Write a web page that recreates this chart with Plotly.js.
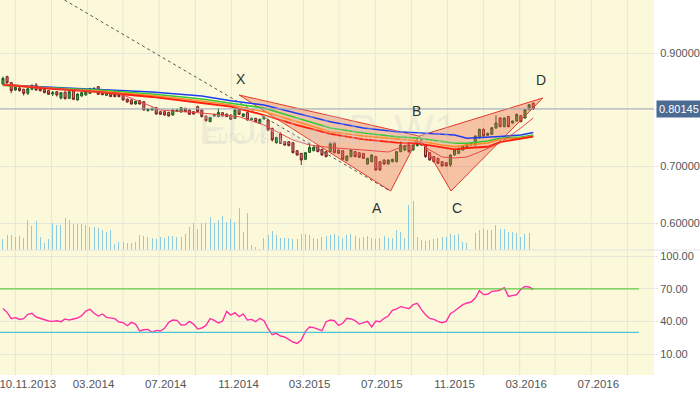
<!DOCTYPE html>
<html><head><meta charset="utf-8">
<script src="https://cdn.plot.ly/plotly-3.0.1.min.js"></script>
<style>html,body{margin:0;padding:0;background:#fff;}#chart{width:700px;height:394px;}</style>
</head><body><div id="chart"></div>
<script>
// ---------- DATA ----------
const FIRST_WEEK = '2013-09-29';
const openP = [.8453,.8583,.8477,.8347,.8382,.8359,.8288,.8359,.8435,.8382,.8359,.8335,.8277,.8318,.8206,.8312,.8200,.8335,.8171,.8241,.8259,.8288,.8347,.8406,.8288,.8253,.8288,.8271,.8265,.8253,.8188,.8171,.8100,.8159,.8141,.7982,.7994,.8035,.7965,.7965,.7953,.7906,.7970,.7959,.8024,.7994,.7965,.8053,.7994,.7888,.7788,.7888,.7877,.7947,.7923,.7906,.7847,.8006,.7882,.7947,.7818,.7847,.7759,.7835,.7818,.7671,.7418,.7571,.7435,.7435,.7418,.7276,.7229,.7124,.7247,.7276,.7359,.7300,.7259,.7259,.7418,.7288,.7276,.7100,.7171,.7259,.7241,.7229,.7041,.7082,.7171,.7082,.7112,.7041,.7082,.7082,.7259,.7288,.7376,.7288,.7365,.7470,.7376,.7241,.7171,.7141,.7082,.7065,.7024,.7200,.7229,.7288,.7347,.7376,.7376,.7500,.7653,.7547,.7565,.7676,.7853,.7700,.7880,.7765,.7800,.7894,.7853,.8000,.8112];
const highP = [.8583,.8600,.8490,.8410,.8400,.8370,.8385,.8445,.8470,.8390,.8370,.8345,.8330,.8325,.8310,.8320,.8330,.8350,.8290,.8310,.8330,.8385,.8400,.8415,.8300,.8315,.8295,.8280,.8300,.8260,.8195,.8180,.8155,.8165,.8150,.8020,.8035,.8045,.7975,.7970,.7960,.8005,.8000,.8045,.8030,.8000,.7970,.8070,.8000,.7895,.7870,.7925,.8023,.7955,.7930,.7915,.8005,.8015,.7935,.7960,.7860,.7855,.7840,.7890,.7830,.7680,.7520,.7600,.7445,.7445,.7425,.7285,.7235,.7250,.7406,.7345,.7370,.7310,.7265,.7435,.7425,.7295,.7285,.7190,.7300,.7270,.7250,.7235,.7150,.7210,.7180,.7090,.7120,.7120,.7135,.7270,.7440,.7380,.7390,.7400,.7500,.7500,.7385,.7250,.7180,.7150,.7090,.7075,.7210,.7300,.7330,.7370,.7405,.7420,.7545,.7665,.7665,.7595,.7690,.7900,.7865,.7865,.7890,.7810,.7930,.7900,.8010,.8100,.8130];
const lowP = [.8430,.8460,.8290,.8330,.8320,.8250,.8260,.8345,.8335,.8320,.8290,.8260,.8240,.8230,.8180,.8180,.8190,.8170,.8160,.8230,.8250,.8280,.8340,.8260,.8255,.8245,.8225,.8220,.8220,.8165,.8125,.8090,.8090,.8090,.7985,.7970,.7985,.7915,.7910,.7895,.7880,.7895,.7965,.7950,.7960,.7910,.7915,.7955,.7865,.7790,.7780,.7880,.7870,.7880,.7870,.7820,.7840,.7910,.7870,.7810,.7810,.7780,.7750,.7825,.7630,.7440,.7400,.7395,.7365,.7355,.7230,.7190,.7024,.7110,.7240,.7265,.7250,.7190,.7160,.7250,.7230,.7220,.7115,.7090,.7160,.7160,.7150,.7130,.7030,.7070,.6925,.6925,.7030,.7030,.7070,.7070,.7250,.7270,.7240,.7280,.7350,.7360,.7150,.7100,.7070,.7040,.6995,.6995,.6990,.7190,.7220,.7280,.7340,.7370,.7370,.7490,.7525,.7540,.7555,.7665,.7690,.7690,.7690,.7755,.7790,.7780,.7845,.7990,.7995];
const closeP = [.8553,.8477,.8335,.8394,.8335,.8288,.8370,.8429,.8347,.8335,.8300,.8271,.8300,.8259,.8300,.8194,.8318,.8182,.8277,.8300,.8318,.8371,.8371,.8271,.8265,.8306,.8230,.8230,.8230,.8171,.8135,.8100,.8147,.8100,.7994,.8012,.8024,.7923,.7918,.7906,.7888,.7994,.7994,.8035,.7965,.7918,.7923,.7965,.7877,.7806,.7865,.7918,.7953,.7888,.7877,.7830,.7994,.7918,.7924,.7818,.7847,.7788,.7830,.7865,.7641,.7465,.7512,.7406,.7376,.7365,.7241,.7200,.7112,.7241,.7335,.7335,.7259,.7200,.7171,.7406,.7241,.7229,.7124,.7182,.7288,.7171,.7159,.7141,.7141,.7200,.6935,.6935,.7041,.7112,.7124,.7259,.7376,.7365,.7259,.7376,.7400,.7376,.7171,.7112,.7082,.7053,.7006,.7006,.7200,.7288,.7318,.7359,.7394,.7406,.7535,.7653,.7535,.7582,.7682,.7765,.7700,.7853,.7700,.7800,.7918,.7788,.8000,.8088,.80145];
const volumeK = [11,15,15,13,14,12,30,24,29,13,7,11,27,25,25,32,30,26,26,26,25,23,23,22,20,18,20,6,8,8,7,7,8,15,14,13,12,11,13,12,14,14,13,13,16,23,27,21,27,27,33,27,30,34,28,31,28,42,18,37,5,3,1,12,15,19,15,12,12,12,11,11,16,16,15,12,11,13,14,
  15,16,14,12,15,16,14,12,13,14,12,11,12,14,12,12,20,18,12,45,49,13,10,9,10,11,12,13,13,16,15,16,8,7,0,17,20,21,20,20,25,21,21,18,18,17,13,16,17,1];
const rsi14 = [52,48.4,42.6,43.5,41.9,42.6,46.6,47.5,44.1,42.9,41.3,40.4,40.1,40.7,39.8,42.3,41.3,42.6,43.2,45.3,49.6,51.2,47.5,45.0,46.9,43.8,43.2,42.6,39.5,38.9,36.1,39.2,37.6,31.2,32.4,32.7,30.0,31.8,31.2,33.7,39.2,41.3,41.0,36.7,37.0,40.1,37.6,33.0,34.0,36.4,42.6,41.0,38.6,40.4,49.3,45.9,48.1,44.4,46.9,41.3,41.9,39.8,42.9,40.7,33.4,27.8,29.1,26.6,25.7,23.5,21.1,19.8,22.9,30.9,34.9,34.3,32.7,31.5,39.8,41.3,40.7,36.4,38.3,42.9,42.3,40.7,37.6,38.9,40.1,34.9,40.4,39.8,42.9,45.0,50.2,51.5,53.6,52.7,51.8,55.5,56.7,50.9,46.2,42.9,41.9,40.1,38.9,40.1,47.2,49.6,53.0,55.5,57.0,57.9,61.6,68.4,64.7,65.0,67.7,68.0,69.0,71.0,63.1,63.7,64.7,69.6,72.3,71.7,69.3];

// moving averages read at sample weeks (candle indices)
const maWeeks = [0,11,23,36,48,55,63,71,79,87,95,100,106,109,112,117,120,125,128];
const maBlue   = [0.8435,0.8400,0.8365,0.8312,0.8241,0.8158,0.8082,0.7941,0.7788,0.7677,0.7611,0.7594,0.7575,0.7553,0.7495,0.7509,0.7527,0.7553,0.7597];
const maGreen  = [0.8426,0.8382,0.8347,0.8277,0.8188,0.8112,0.8029,0.7853,0.7677,0.7588,0.7523,0.7500,0.7440,0.7407,0.7407,0.7447,0.7495,0.7518,0.7553];
const maOrange = [0.8435,0.8374,0.8329,0.8250,0.8153,0.8082,0.7964,0.7788,0.7611,0.7535,0.7477,0.7452,0.7377,0.7346,0.7377,0.7412,0.7477,0.7500,0.7535];
const maRed    = [0.8444,0.8374,0.8312,0.8224,0.8118,0.8052,0.7906,0.7729,0.7571,0.7477,0.7417,0.7407,0.7333,0.7301,0.7324,0.7346,0.7429,0.7482,0.7523];
const fastWeeks = [0,11,23,28,33,38,48,57,63,70,74,79,87,93,97,100,103,106,109,112,115,120,125,128];
const maFast    = [0.8453,0.8382,0.8312,0.8289,0.8141,0.7994,0.7941,0.7876,0.7729,0.7465,0.7377,0.7332,0.7288,0.7253,0.7359,0.7447,0.7288,0.7165,0.7147,0.7165,0.7253,0.7412,0.7677,0.7853];

// harmonic pattern
const patternNames  = ['X','A','B','C','D'];
const patternDates  = ['2014-11-02','2015-07-16','2015-09-02','2015-10-26','2016-03-29'];
const patternPrices = [0.8259,0.6565,0.7535,0.6565,0.8206];
const labelDates    = ['2014-11-05','2015-06-23','2015-08-28','2015-11-05','2016-03-26'];
const labelPrices   = [0.8541,0.6265,0.7977,0.6265,0.8524];
const trendDates  = ['2014-01-11','2015-07-15'];
const trendPrices = [0.9935,0.6565];
const lastPrice = 0.80145;

const xTickDates = ['2013-11-10','2014-03-01','2014-07-01','2014-11-01','2015-03-01','2015-07-01','2015-11-01','2016-03-01','2016-07-01'];
const xTickText  = ['10.11.2013','03.2014','07.2014','11.2014','03.2015','07.2015','11.2015','03.2016','07.2016'];
const priceTicks = [0.6,0.7,0.8,0.9];
const priceTickText = ['0.60000','0.70000','','0.90000'];
const rsiTicks = [10,40,70,100];
const rsiLevels = [70,30];

// ---------- BUILD ----------
function addDays(s, d){ const t=new Date(s+'T00:00:00Z'); t.setTime(t.getTime()+d*86400000); return t.toISOString().slice(0,10); }
const weekDates = closeP.map((_,i)=>addDays(FIRST_WEEK, 7*i));
const pick = idx => idx.map(i=>weekDates[i]);

const P = i => ({x:patternDates[i], y:patternPrices[i]});
const tri = (a,b,c) => ({
  type:'scatter', mode:'lines', x:[P(a).x,P(b).x,P(c).x,P(a).x], y:[P(a).y,P(b).y,P(c).y,P(a).y],
  fill:'toself', fillcolor:'rgba(236,96,70,0.36)', line:{color:'#e23a2a',width:1}, hoverinfo:'skip'
});

const traces = [
  tri(0,1,2), tri(2,3,4),
  {type:'scatter',mode:'lines',x:trendDates,y:trendPrices,line:{color:'#555',width:1,dash:'3px,3px'},hoverinfo:'skip'},
  {type:'scatter',mode:'lines',x:pick(maWeeks),y:maBlue,line:{color:'#1f3df0',width:1.6},hoverinfo:'skip'},
  {type:'scatter',mode:'lines',x:pick(maWeeks),y:maGreen,line:{color:'#34c934',width:1.6},hoverinfo:'skip'},
  {type:'scatter',mode:'lines',x:pick(maWeeks),y:maOrange,line:{color:'#ff8a2a',width:1.6},hoverinfo:'skip'},
  {type:'scatter',mode:'lines',x:pick(maWeeks),y:maRed,line:{color:'#ff1e0a',width:1.8},hoverinfo:'skip'},
  {type:'scatter',mode:'lines',x:pick(fastWeeks),y:maFast,line:{color:'#e8474a',width:1},hoverinfo:'skip'},
  {type:'candlestick',x:weekDates,open:openP,high:highP,low:lowP,close:closeP,
    increasing:{line:{color:'#1d5a1d',width:1},fillcolor:'#3aa33a'},
    decreasing:{line:{color:'#7a1e1e',width:1},fillcolor:'#e07a7a'},
    whiskerwidth:0,hoverinfo:'skip'},
  {type:'bar',x:weekDates,y:volumeK,yaxis:'y3',marker:{color:'#8ccbe0',line:{width:0}},width:1.7*86400000,hoverinfo:'skip'},
  {type:'scatter',mode:'lines',x:weekDates,y:rsi14,yaxis:'y2',line:{color:'#ff2fa6',width:1.4},hoverinfo:'skip'}
];

const grid = '#e7e6dc';
const shapes = [];
for(let k=0;k<18;k++){
  const d = addDays('2013-10-20', Math.round(60.83*k));
  shapes.push({type:'line',xref:'x',yref:'paper',x0:d,x1:d,y0:0,y1:1,layer:'below',line:{color:grid,width:1}});
}
shapes.push({type:'line',xref:'paper',yref:'y',x0:0,x1:1,y0:lastPrice,y1:lastPrice,line:{color:'#a3abb8',width:1}});
shapes.push({type:'line',xref:'paper',yref:'y2',x0:0,x1:0.977,y0:rsiLevels[0],y1:rsiLevels[0],line:{color:'#62cc45',width:1.2}});
shapes.push({type:'line',xref:'paper',yref:'y2',x0:0,x1:0.977,y0:rsiLevels[1],y1:rsiLevels[1],line:{color:'#4fc4d6',width:1.2}});
shapes.push({type:'line',xref:'paper',yref:'paper',x0:0,x1:1.071,y0:0.3333,y1:0.3333,line:{color:'#e4e4e4',width:1}});

const annotations = [
  {xref:'paper',yref:'paper',x:0.5015,y:0.7227,text:'EURGBP, W1',showarrow:false,font:{size:42,color:'rgba(205,205,205,0.30)'}},
  {xref:'paper',yref:'paper',x:0.3104,y:0.6347,xanchor:'left',text:'Euro vs Great Britain Pound',showarrow:false,font:{size:19,color:'rgba(205,205,205,0.30)'}},
  {xref:'paper',yref:'y',x:1,y:lastPrice,xanchor:'left',xshift:2,text:'0.80145',showarrow:false,bgcolor:'#4c6b93',borderpad:2,font:{size:11,color:'#ffffff'}}
];
patternNames.forEach((n,i)=>annotations.push({xref:'x',yref:'y',x:labelDates[i],y:labelPrices[i],text:n,showarrow:false,font:{size:14,color:'#333'}}));

const layout = {
  width:700,height:394,margin:{l:0,r:46,t:0,b:19},
  paper_bgcolor:'#ffffff',plot_bgcolor:'#fbf9d9',showlegend:false,
  font:{family:'"Liberation Sans", Arial, sans-serif',size:11,color:'#555'},
  xaxis:{type:'date',range:['2013-09-24','2016-10-03'],anchor:'y2',tickvals:xTickDates,ticktext:xTickText,ticklabeloverflow:'allow',
    showgrid:false,ticks:'',zeroline:false,showline:false,rangeslider:{visible:false},tickfont:{size:11.5,color:'#555'}},
  yaxis:{domain:[0.3333,1],range:[0.55236,0.99353],side:'right',anchor:'x',tickvals:priceTicks,ticktext:priceTickText,ticklabeloverflow:'allow',
    showgrid:true,gridcolor:grid,ticks:'outside',ticklen:3,tickcolor:grid,zeroline:false,tickfont:{size:11,color:'#555'}},
  yaxis2:{domain:[0,0.3333],range:[-9.3,105.8],side:'right',anchor:'x',tickvals:rsiTicks,tickformat:'.2f',ticklabeloverflow:'allow',
    showgrid:true,gridcolor:grid,ticks:'outside',ticklen:3,tickcolor:grid,zeroline:false,tickfont:{size:11,color:'#555'}},
  yaxis3:{overlaying:'y',anchor:'x',range:[0,250],visible:false,fixedrange:true},
  shapes:shapes,annotations:annotations,bargap:0
};
Plotly.newPlot('chart',traces,layout,{staticPlot:true,displayModeBar:false});
</script></body></html>
